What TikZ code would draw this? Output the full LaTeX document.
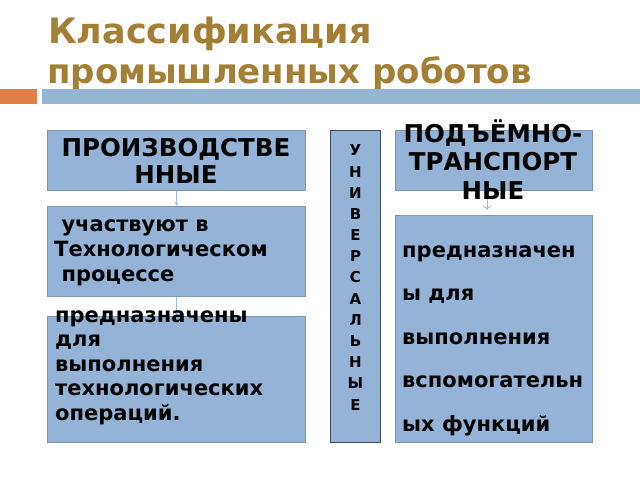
\documentclass[tikz,border=0pt]{standalone}
\usepackage{fontspec}
\setmainfont{DejaVu Sans}
\usetikzlibrary{arrows.meta}
\definecolor{titlecol}{HTML}{A37F36}
\definecolor{orangebar}{HTML}{E07E47}
\definecolor{bluebar}{HTML}{94B6D3}
\definecolor{boxfill}{HTML}{95B3D7}
\definecolor{boxline}{HTML}{7B96B2}
\definecolor{darkline}{HTML}{3D4A58}
\definecolor{conncol}{HTML}{9DBCE0}
\tikzset{
  box/.style={draw=boxline, line width=1.2pt, fill=boxfill, inner sep=0pt, anchor=north west},
  txt/.style={inner sep=0pt, font=\bfseries\fontsize{21}{25}\selectfont, align=left, anchor=base west},
  head/.style={inner sep=0pt, font=\bfseries\fontsize{24.5}{27}\selectfont, align=center, anchor=base},
  ttl/.style={anchor=base west, inner sep=0pt, text=titlecol, font=\bfseries\fontsize{35}{40}\selectfont},
  conn/.style={draw=conncol, line width=0.9pt},
}
\begin{document}
\begin{tikzpicture}[x=1pt,y=-1pt]
\useasboundingbox (0,0) rectangle (640,480);
% title
\node[ttl] (t1) at (48,43) {Классификация};
\node[ttl, font=\bfseries\fontsize{34}{40}\selectfont] (t2) at (47,83) {промышленных роботов};
% bars
\fill[orangebar] (0,89) rectangle (37,104);
\fill[bluebar] (42,89) rectangle (640,104);
% boxes
\node[box, minimum width=258pt, minimum height=60pt] (b1) at (47,130) {};
\node[box, minimum width=258pt, minimum height=90pt] (b2) at (47,206) {};
\node[box, minimum width=258pt, minimum height=126pt] (b3) at (47,316) {};
\node[box, draw=darkline, minimum width=50pt, minimum height=312pt] (u) at (330,130) {};
\node[box, minimum width=197pt, minimum height=60pt] (p1) at (395,130) {};
\node[box, minimum width=197pt, minimum height=227pt] (p2) at (395,215) {};
% connectors
\draw[conn, -{Stealth[length=4pt,width=4pt]}] (b1.south) -- (b2.north);
\draw[conn, -{Stealth[length=4pt,width=4pt]}] (b2.south) -- (b3.north);
\coordinate (p2t) at (487,210);
\draw[conn, -{To[length=4pt,width=8pt]}] (p1.south -| p2t) -- (p2t);
% texts
\node[head] (h1) at (176,183) {ПРОИЗВОДСТВЕ\\ННЫЕ};
\node[head, font=\bfseries\fontsize{24.5}{28.5}\selectfont] (h2) at (493,199) {ПОДЪЁМНО-\\ТРАНСПОРТ\\НЫЕ};
\node[txt] (x2) at (54,281) {\ участвуют в\\Технологическом\\\ процессе};
\node[txt, font=\bfseries\fontsize{21}{24.5}\selectfont] (x3) at (55,420) {предназначены\\для\\выполнения\\технологических\\операций.};
\node[txt, font=\bfseries\fontsize{21}{43.5}\selectfont] (x4) at (402,431) {предназначен\\ы для\\выполнения\\вспомогательн\\ых функций};
\node[inner sep=0pt, font=\bfseries\fontsize{15}{21.17}\selectfont, align=center, anchor=base] (uv) at (355.5,410) {У\\Н\\И\\В\\Е\\Р\\С\\А\\Л\\Ь\\Н\\Ы\\Е};
\end{tikzpicture}
\end{document}
